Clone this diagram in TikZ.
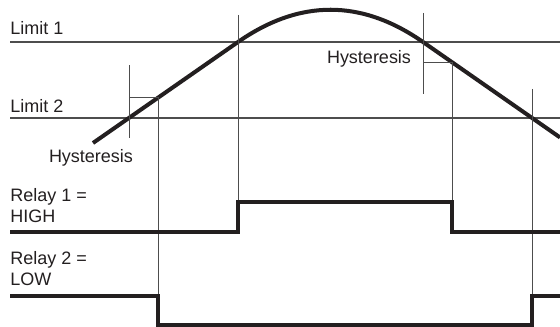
\documentclass[tikz,border=0pt]{standalone}
\usepackage{fontspec}
\setmainfont{Liberation Sans}
\definecolor{ink}{HTML}{231F20}
\definecolor{rule}{HTML}{4D4D4D}

\begin{document}
\begin{tikzpicture}[font=\fontsize{12.8}{15.6}\selectfont,
 signal/.style={line width=2.85pt,draw=ink,line join=round},
 relay/.style={line width=2.4pt,draw=ink,line join=miter},
 limit/.style={line width=1pt,draw=rule},
 marker/.style={line width=.6pt,draw=rule},
 label/.style={text=ink,inner sep=0pt}]
\path[use as bounding box] (0,0) rectangle (14,8.175);
% Switching levels
\draw[limit] (.25,7.125) -- (14,7.125);
\draw[limit] (.25,5.225) -- (14,5.225);
\node[label,anchor=base west] (lim1) at (.25,7.3) {Limit 1};
\node[label,anchor=base west] (lim2) at (.25,5.36) {Limit 2};
% Input signal: straight flanks, rounded top
\coordinate (S0) at (2.325,4.6);
\coordinate (Up) at (5.95,7.125);
\coordinate (Dn) at (10.575,7.125);
\coordinate (S1) at (14,4.739);
\coordinate (H1) at (3.95,5.732);
\coordinate (H2) at (11.3,6.62);
\draw[signal] (S0) -- (Up) .. controls (7.492,8.2) and (9.033,8.2) .. (Dn) -- (S1);
% Relay step corners
\coordinate (R1up) at (5.95,3.125);
\coordinate (R1dn) at (11.3,3.125);
\coordinate (R2dn) at (3.95,.775);
\coordinate (R2up) at (13.3,.775);
% Hysteresis brackets and switching instants
\draw[marker] (3.225,4.725) -- (3.225,6.55);
\draw[marker] (3.225,5.732) -- (H1) -- (R2dn);
\draw[marker] (5.95,7.8) -- (R1up);
\draw[marker] (10.575,7.85) -- (10.575,5.825);
\draw[marker] (10.575,6.62) -- (H2) -- (R1dn);
\draw[marker] (13.3,5.95) -- (R2up);
\node[label,anchor=base] (hysA) at (2.275,4.1) {Hysteresis};
\node[label,anchor=base] (hysB) at (9.225,6.575) {Hysteresis};
% Relay outputs (base anchor sits on the last text line)
\draw[relay] (.25,2.375) -| (R1up) -- (R1dn) |- (14,2.375);
\draw[relay] (.25,.775) -- (R2dn) |- (13.3,.05) -- (R2up) -- (14,.775);
\node[label,anchor=base west,align=left] (rel1) at (.25,2.6) {Relay 1 =\\HIGH};
\node[label,anchor=base west,align=left] (rel2) at (.25,1.025) {Relay 2 =\\LOW};
\end{tikzpicture}
\end{document}
